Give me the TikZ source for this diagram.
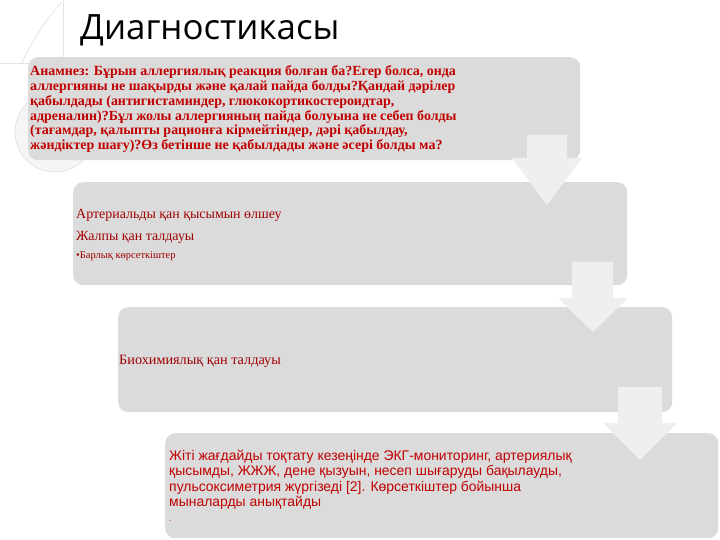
\documentclass[tikz,border=0pt]{standalone}
\usepackage{fontspec}
\setmainfont{Liberation Serif}
\newfontfamily\titlefont{Open Sans}
\newfontfamily\sansf{Liberation Sans}
\definecolor{boxgray}{HTML}{DBDBDB}
\definecolor{arrowgray}{HTML}{EFEFEF}
\definecolor{decogray}{HTML}{E4E4E4}
\definecolor{txtred}{HTML}{C00000}
\definecolor{txtdark}{HTML}{A00000}
\begin{document}
\begin{tikzpicture}[x=1bp,y=-1bp,
  stepbox/.style={fill=boxgray, draw=none, rounded corners=10bp, anchor=north west, inner sep=0pt},
  blockarrow/.style={fill=arrowgray, draw=none},
  line/.style={anchor=base west, inner sep=0pt},
  deco/.style={draw=decogray, line width=0.8bp}
]
\useasboundingbox (0,0) rectangle (720,540);
% faint decorations
\draw[deco] (63,0) -- (63,63) -- (0,63);
\draw[deco] (62,2) .. controls (45,20) and (30,45) .. (22,63);
\path[deco, fill=white!96!black] (55,132) circle (40);

% boxes
\node[stepbox, minimum width=552bp, minimum height=103bp] (b1) at (28,57) {};
\node[stepbox, minimum width=554bp, minimum height=103bp] (b2) at (73,182) {};
\node[stepbox, minimum width=554bp, minimum height=105bp] (b3) at (118,307) {};
\node[stepbox, minimum width=553bp, minimum height=105bp] (b4) at (165,433) {};

% block arrows
\fill[blockarrow] (527,135) -- (567,135) -- (567,158) -- (582,158) -- (547,205) -- (512,158) -- (527,158) -- cycle;
\fill[blockarrow] (572,262) -- (613,262) -- (613,298) -- (628,298) -- (593,332) -- (558,298) -- (572,298) -- cycle;
\fill[blockarrow] (618,387) -- (662,387) -- (662,423) -- (677,423) -- (640,460) -- (603,423) -- (618,423) -- cycle;

% title
\node[line, font=\titlefont\fontsize{35}{40}\selectfont] (title) at (80,40) {Диагностикасы};

% box 1 text
\node[anchor=north west, inner sep=0pt, align=left, text=txtred,
      font=\bfseries\fontsize{14}{15}\selectfont] (t1) at (30,65)
  {Анамнез: Бұрын аллергиялық реакция болған ба?Егер болса, онда\\
   аллергияны не шақырды және қалай пайда болды?Қандай дәрілер\\
   қабылдады (антигистаминдер, глюкокортикостероидтар,\\
   адреналин)?Бұл жолы аллергияның пайда болуына не себеп болды\\
   (тағамдар, қалыпты рационға кірмейтіндер, дәрі қабылдау,\\
   жәндіктер шағу)?Өз бетінше не қабылдады және әсері болды ма?};

% box 2 text
\node[line, text=txtdark, font=\fontsize{14}{18}\selectfont] (t2a) at (76,219) {Артериальды қан қысымын өлшеу};
\node[line, text=txtdark, font=\fontsize{14}{18}\selectfont] (t2b) at (76,241) {Жалпы қан талдауы};
\node[line, text=txtdark, font=\fontsize{10.5}{12}\selectfont] (t2c) at (76,259) {•Барлық көрсеткіштер};

% box 3 text
\node[line, text=txtdark, font=\fontsize{14.3}{18}\selectfont] (t3) at (119,364) {Биохимиялық қан талдауы};

% box 4 text
\node[anchor=north west, inner sep=0pt, align=left, text=txtred,
      font=\sansf\fontsize{14}{15.4}\selectfont] (t4) at (169,450)
  {Жіті жағдайды тоқтату кезеңінде ЭКГ-мониторинг, артериялық\\
   қысымды, ЖЖЖ, дене қызуын, несеп шығаруды бақылауды,\\
   пульсоксиметрия жүргізеді [2]. Көрсеткіштер бойынша\\
   мыналарды анықтайды\\
   {\fontsize{8}{10}\selectfont .}};
\end{tikzpicture}
\end{document}
